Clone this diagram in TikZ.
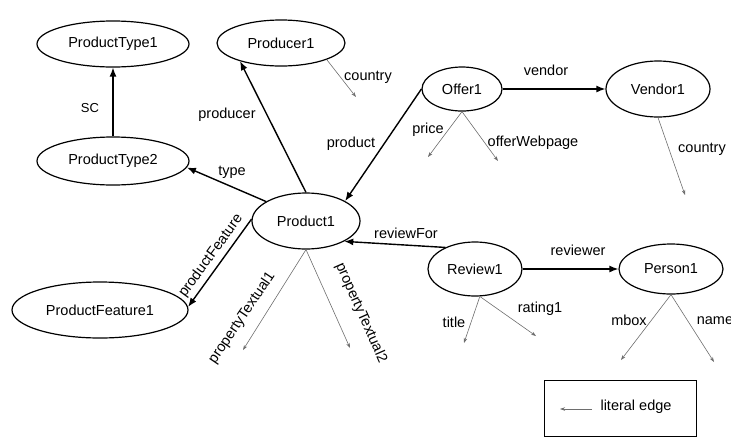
\documentclass[tikz,border=0pt]{standalone}
\usepackage{fontspec}
\setmainfont{Liberation Sans}
\usetikzlibrary{arrows.meta,shapes.geometric}
\definecolor{litgray}{RGB}{110,110,110}
\begin{document}
\begin{tikzpicture}[x=1pt,y=-1pt,
  ent/.style={ellipse,draw,line width=1.2pt,inner sep=0pt,font=\fontsize{14.5}{16}\selectfont},
  rel/.style={line width=1.4pt,-{Latex[length=9pt,width=7pt]}},
  lit/.style={line width=0.6pt,draw=litgray,-{Stealth[length=5pt,width=3.5pt]}},
  lbl/.style={font=\fontsize{14.5}{16}\selectfont,inner sep=0pt}]
\useasboundingbox (0,0) rectangle (731,437);

% entity nodes
\node[ent,minimum width=152pt,minimum height=46pt] (pt1) at (113,44) {ProductType1};
\node[ent,minimum width=128pt,minimum height=46pt] (pr1) at (281,43) {Producer1};
\node[ent,minimum width=152pt,minimum height=48pt] (pt2) at (113,161) {ProductType2};
\node[ent,minimum width=108pt,minimum height=56pt] (p1) at (306,221) {Product1};
\node[ent,minimum width=176pt,minimum height=56pt] (pf) at (100,310) {ProductFeature1};
\node[ent,minimum width=80pt,minimum height=44pt] (of) at (462,89) {Offer1};
\node[ent,minimum width=104pt,minimum height=56pt] (ve) at (658,89) {Vendor1};
\node[ent,minimum width=94pt,minimum height=54pt] (rv) at (475,269) {Review1};
\node[ent,minimum width=104pt,minimum height=50pt] (pe) at (671,269) {Person1};

% relation edges
\draw[rel] (pt2.north) -- (pt1.south);
\draw[rel] (p1.north) -- (pr1.204);
\draw[rel] (p1.154) -- (pt2.355);
\draw[rel] (of.west) -- (p1.27);
\draw[rel] (of.east) -- (ve.west);
\draw[rel] (p1.178) -- (pf.2);
\draw[rel] (rv.144) -- (p1.332);
\draw[rel] (rv.east) -- (pe.west);

% relation labels
\node[lbl] (lsc) at (90,108) {\fontsize{13}{15}\selectfont SC};
\node[lbl] (lprod) at (227,115) {producer};
\node[lbl] (ltype) at (232,172) {type};
\node[lbl] (lproduct) at (351,144) {product};
\node[lbl] (lvendor) at (546,70) {vendor};
\node[lbl,rotate=54] (lpf) at (211,256) {productFeature};
\node[lbl] (lrf) at (406,233) {reviewFor};
\node[lbl] (lrev) at (578,250) {reviewer};

% literal edge ends
\coordinate (e1) at (356,97);
\coordinate (e2) at (428,157);
\coordinate (e3) at (498,161);
\coordinate (e4) at (685,195);
\coordinate (e5) at (243,350);
\coordinate (e6) at (350,348);
\coordinate (e7) at (464,343);
\coordinate (e8) at (536,336);
\coordinate (e9) at (621,360);
\coordinate (e10) at (714,362);

\draw[lit] (pr1.340) -- (e1);
\draw[lit] (of.south) -- (e2);
\draw[lit] (of.south) -- (e3);
\draw[lit] (ve.south) -- (e4);
\draw[lit] (p1.south) -- (e5);
\draw[lit] (p1.south) -- (e6);
\draw[lit] (rv.280) -- (e7);
\draw[lit] (rv.280) -- (e8);
\draw[lit] (pe.south) -- (e9);
\draw[lit] (pe.south) -- (e10);

% literal labels
\node[lbl] (lc1) at (368,77) {country};
\node[lbl] (lprice) at (428,130) {price};
\node[lbl] (lweb) at (533,143) {offerWebpage};
\node[lbl] (lc2) at (702,149) {country};
\node[lbl,rotate=56] (ltx1) at (242,318) {propertyTextual1};
\node[lbl,rotate=-66] (ltx2) at (361,313) {propertyTextual2};
\node[lbl] (ltitle) at (454,322) {title};
\node[lbl] (lrating) at (540,309) {rating1};
\node[lbl] (lmbox) at (629,320) {mbox};
\node[lbl] (lname) at (715,321) {name};

% legend
\node[draw,line width=0.8pt,minimum width=152pt,minimum height=56pt,inner sep=0pt] (leg) at (620,408) {};
\coordinate (lgs) at (592,409);
\coordinate (lge) at (560,409);
\draw[lit] (lgs) -- (lge);
\node[lbl] (legtxt) at (636,407) {literal edge};
\end{tikzpicture}
\end{document}
